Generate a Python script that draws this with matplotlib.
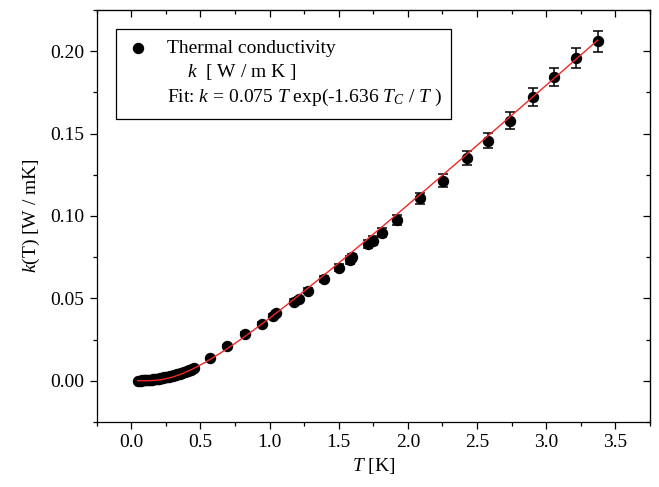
import numpy as np
import matplotlib
matplotlib.use("Agg")
import matplotlib.pyplot as plt
from matplotlib.ticker import MultipleLocator, FormatStrFormatter
from matplotlib.patches import Rectangle

plt.rcParams['font.family'] = ['Liberation Serif', 'DejaVu Serif']
plt.rcParams['mathtext.fontset'] = 'custom'
plt.rcParams['mathtext.rm'] = 'Liberation Serif'
plt.rcParams['mathtext.it'] = 'Liberation Serif:italic'

# low temperature points (error bars hidden by the markers)
T_low = [0.05, 0.06, 0.07, 0.08, 0.09, 0.10, 0.11, 0.12, 0.13, 0.14,
         0.15, 0.16, 0.17, 0.18, 0.19, 0.20, 0.21, 0.22, 0.23, 0.24,
         0.25, 0.26, 0.27, 0.28, 0.29, 0.30, 0.31, 0.32, 0.33, 0.34,
         0.35, 0.36, 0.37, 0.38, 0.39, 0.40, 0.41, 0.42, 0.43, 0.44, 0.45]
k_low = [0.0000, 0.0001, 0.0001, 0.0002, 0.0002, 0.0003, 0.0004, 0.0005, 0.0005, 0.0006,
         0.0007, 0.0008, 0.0010, 0.0011, 0.0012, 0.0013, 0.0015, 0.0016, 0.0018, 0.0020,
         0.0022, 0.0024, 0.0026, 0.0028, 0.0030, 0.0032, 0.0034, 0.0037, 0.0039, 0.0042,
         0.0044, 0.0047, 0.0050, 0.0053, 0.0056, 0.0059, 0.0062, 0.0065, 0.0068, 0.0071, 0.0075]

# higher temperature points with error bars
T_hi = [0.569, 0.695, 0.823, 0.945, 1.027, 1.050, 1.180, 1.210, 1.281, 1.390,
        1.499, 1.579, 1.596, 1.712, 1.749, 1.814, 1.918, 2.088, 2.257, 2.427,
        2.580, 2.737, 2.904, 3.057, 3.214, 3.372]
k_hi = [0.0136, 0.0211, 0.0284, 0.0345, 0.0395, 0.0410, 0.0480, 0.0495, 0.0547, 0.0616,
        0.0686, 0.0733, 0.0749, 0.0830, 0.0850, 0.0899, 0.0976, 0.1107, 0.1215, 0.1350,
        0.1457, 0.1578, 0.1720, 0.1845, 0.1957, 0.2060]
k_err = [0.0004, 0.0006, 0.0009, 0.0010, 0.0012, 0.0012, 0.0014, 0.0015, 0.0016, 0.0018,
         0.0020, 0.0022, 0.0022, 0.0025, 0.0026, 0.0027, 0.0029, 0.0033, 0.0037, 0.0043,
         0.0045, 0.0050, 0.0054, 0.0055, 0.0060, 0.0064]

# fit k = A T exp(-B Tc / T)
A, B, TC = 0.075, 1.636, 0.416
T_fit = np.linspace(0.046, 3.372, 400)
k_fit = A * T_fit * np.exp(-B * TC / T_fit)

fig = plt.figure(figsize=(6.59, 4.87), dpi=100)
ax = fig.add_axes([0.1467, 0.1335, 0.8396, 0.846])

ax.plot(T_low, k_low, 'o', color='black', ms=7.2, zorder=2)
ax.errorbar(T_hi, k_hi, yerr=k_err, fmt='o', color='black', ms=7.2,
            elinewidth=1.1, capsize=3.6, capthick=1.1, zorder=2)
ax.plot(T_fit, k_fit, color='#f02828', lw=1.0, zorder=3)

ax.set_xlim(-0.25, 3.75)
ax.set_ylim(-0.025, 0.225)
ax.xaxis.set_major_locator(MultipleLocator(0.5))
ax.xaxis.set_minor_locator(MultipleLocator(0.25))
ax.yaxis.set_major_locator(MultipleLocator(0.05))
ax.yaxis.set_minor_locator(MultipleLocator(0.025))
ax.xaxis.set_major_formatter(FormatStrFormatter('%.1f'))
ax.yaxis.set_major_formatter(FormatStrFormatter('%.2f'))
ax.tick_params(which='both', direction='out', labelsize=14, width=0.9)
ax.tick_params(which='major', length=5)
ax.tick_params(which='minor', length=3)
ax.tick_params(axis='y', pad=4)

for s in ax.spines.values():
    s.set_linewidth(0.9)

top = ax.secondary_xaxis('top')
top.xaxis.set_major_locator(MultipleLocator(0.5))
top.xaxis.set_minor_locator(MultipleLocator(0.25))
top.tick_params(which='both', direction='in', labeltop=False, width=0.9)
top.tick_params(which='major', length=5)
top.tick_params(which='minor', length=3)
right = ax.secondary_yaxis('right')
right.yaxis.set_major_locator(MultipleLocator(0.05))
right.yaxis.set_minor_locator(MultipleLocator(0.025))
right.tick_params(which='both', direction='in', labelright=False, width=0.9)
right.tick_params(which='major', length=5)
right.tick_params(which='minor', length=3)

ax.set_xlabel('$T$ [K]', fontsize=14, labelpad=4)
ax.set_ylabel('$k$(T) [W / mK]', fontsize=14, labelpad=6)

# legend box
ax.add_patch(Rectangle((0.035, 0.735), 0.605, 0.219, transform=ax.transAxes,
                       fill=False, edgecolor='black', lw=0.9, zorder=4))
ax.plot([0.075], [0.907], 'o', color='black', ms=7.2, transform=ax.transAxes, zorder=5)
ax.text(0.127, 0.895, 'Thermal conductivity', transform=ax.transAxes,
        fontsize=14, va='baseline', ha='left', zorder=5)
ax.text(0.163, 0.837, '$k$  [ W / m K ]', transform=ax.transAxes,
        fontsize=14, va='baseline', ha='left', zorder=5)
ax.text(0.127, 0.777, 'Fit: $k$ = 0.075 $T$ exp(-1.636 $T_C$ / $T$ )', transform=ax.transAxes,
        fontsize=14, va='baseline', ha='left', zorder=5)

fig.savefig('out.png', dpi=100)
